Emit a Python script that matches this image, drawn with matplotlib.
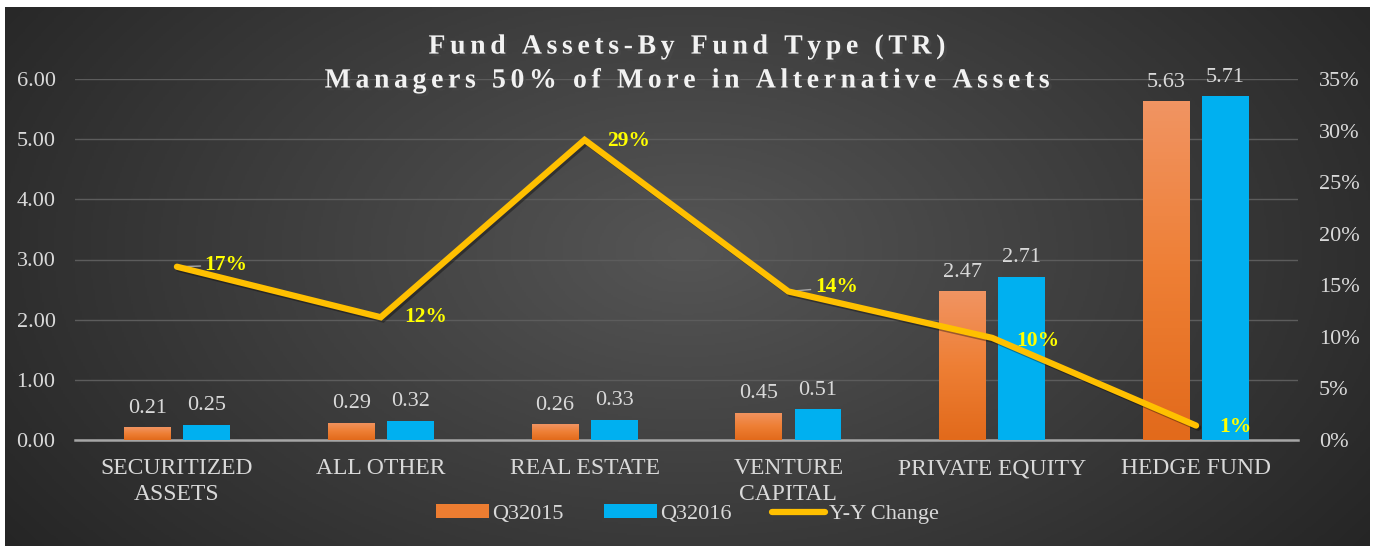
import numpy as np
import matplotlib.pyplot as plt
from matplotlib import patheffects as pe
from matplotlib.colors import LinearSegmentedColormap
from matplotlib.lines import Line2D
from matplotlib.patches import Patch

plt.rcParams['font.family'] = ['Liberation Serif', 'DejaVu Serif']

categories = ['SECURITIZED\nASSETS', 'ALL OTHER', 'REAL ESTATE', 'VENTURE\nCAPITAL',
              'PRIVATE EQUITY', 'HEDGE FUND']
q2015 = [0.21, 0.29, 0.26, 0.45, 2.47, 5.63]
q2016 = [0.25, 0.32, 0.33, 0.51, 2.71, 5.71]
yy_change = [0.168, 0.119, 0.291, 0.144, 0.099, 0.014]
yy_labels = ['17%', '12%', '29%', '14%', '10%', '1%']

W, H = 1374, 550
fig = plt.figure(figsize=(W / 100, H / 100), dpi=100)
fig.patch.set_facecolor('white')

# dark radial background
bg = fig.add_axes([5 / W, 4 / H, 1365 / W, 539 / H])
yy, xx = np.mgrid[0:1:300j, 0:1:700j]
d = np.sqrt(((xx - 0.5) / 0.62) ** 2 + ((yy - 0.45) / 0.95) ** 2)
d = np.clip(d, 0, 1)
bg_cmap = LinearSegmentedColormap.from_list('bg', ['#555555', '#3d3d3d', '#252525'])
bg.imshow(d, cmap=bg_cmap, aspect='auto', vmin=0, vmax=1)
bg.set_axis_off()

ax = fig.add_axes([75 / W, 1 - 440 / H, (1298 - 75) / W, 361 / H])
ax.patch.set_alpha(0)
ax2 = ax.twinx()

x = np.arange(len(categories))
w = 0.23
off = 0.145
bars1 = ax.bar(x - off, q2015, w, color='#ED7D31', zorder=3)
bars2 = ax.bar(x + off, q2016, w, color='#00B0F0', zorder=3)

# orange gradient fill
or_cmap = LinearSegmentedColormap.from_list('or', ['#F19462', '#EE7F35', '#E26A1B'])
grad = np.linspace(0, 1, 100)[:, None]
for b in bars1:
    im = ax.imshow(grad, extent=[b.get_x(), b.get_x() + b.get_width(), 0, b.get_height()],
                   aspect='auto', cmap=or_cmap, zorder=3.5)
    im.set_clip_path(b)

for bars, vals in [(bars1, q2015), (bars2, q2016)]:
    for b, v in zip(bars, vals):
        ax.annotate(f'{v:.2f}', (b.get_x() + b.get_width() / 2, v), xytext=(0, 7),
                    textcoords='offset points', ha='center', va='bottom',
                    color='#D9D9D9', fontsize=16)

ax.set_xlim(-0.5, len(categories) - 0.5)
ax.set_ylim(0, 6)
ax.set_yticks(np.arange(0, 7, 1))
ax.set_yticklabels([f'{v:.2f}' for v in np.arange(0, 7, 1)])
ax.set_xticks(x)
ax.set_xticklabels(categories, linespacing=1.3)
ax.yaxis.grid(True, color='#5c5c5c', lw=1)
ax.set_axisbelow(True)
ax.tick_params(axis='y', length=0, colors='#D9D9D9', labelsize=16, pad=14)
ax.tick_params(axis='x', length=0, colors='#D9D9D9', labelsize=17, pad=13)
for s in ['top', 'left', 'right']:
    ax.spines[s].set_visible(False)
ax.spines['bottom'].set_color('#A6A6A6')
ax.spines['bottom'].set_linewidth(1.8)

ax2.plot(x, yy_change, color='#FFC000', lw=4.5, solid_capstyle='round',
         solid_joinstyle='miter', zorder=4,
         path_effects=[pe.SimpleLineShadow(offset=(1.5, -1.5), alpha=0.35), pe.Normal()])
ax2.set_ylim(0, 0.35)
ax2.set_yticks(np.arange(0, 0.36, 0.05))
ax2.set_yticklabels([f'{int(round(v * 100))}%' for v in np.arange(0, 0.36, 0.05)])
ax2.tick_params(axis='y', length=0, colors='#D9D9D9', labelsize=16, pad=15)
for s in ax2.spines.values():
    s.set_visible(False)

label_offsets = [(20, 1), (17, 0), (16, -1), (19, 3), (17, -2), (17, -1)]
leader = [True, False, False, True, False, False]
for xi, yi, lbl, offs, ld in zip(x, yy_change, yy_labels, label_offsets, leader):
    kw = {}
    if ld:
        kw['arrowprops'] = dict(arrowstyle='-', color='#A6A6A6', lw=1, shrinkA=1, shrinkB=2)
    ax2.annotate(lbl, (xi, yi), xytext=offs, textcoords='offset points',
                 color='#FFFF00', fontweight='bold', fontsize=15.5, va='center', ha='left', **kw)

title_fx = [pe.SimplePatchShadow(offset=(2, -2), alpha=0.6), pe.Normal()]
for ty, line in [(47, 'Fund Assets-By Fund Type (TR)'),
                 (81, 'Managers 50% of More in Alternative Assets')]:
    fig.text(0.5, 1 - ty / H, '\u2006'.join(line), ha='center', va='center',
             color='#F2F2F2', fontsize=20, fontweight='bold', path_effects=title_fx)

handles = [Patch(facecolor='#ED7D31'), Patch(facecolor='#00B0F0'),
           Line2D([], [], color='#FFC000', lw=4.5, solid_capstyle='round')]
fig.legend(handles, ['Q32015', 'Q32016', 'Y-Y Change'], loc='center',
           bbox_to_anchor=(0.5, 1 - 514 / H), ncol=3, frameon=False, fontsize=16,
           labelcolor='#D9D9D9', handlelength=2.4, handleheight=0.6,
           handletextpad=0.15, columnspacing=1.8)

fig.savefig('out.png', dpi=100, facecolor=fig.get_facecolor())
